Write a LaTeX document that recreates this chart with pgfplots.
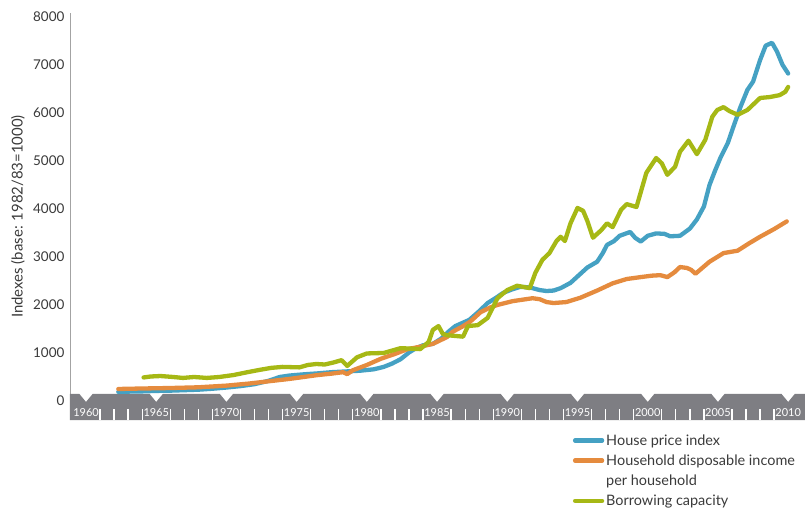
\documentclass[border=0pt]{standalone}
\usepackage{pgfplots}
\pgfplotsset{compat=1.18}
\usepackage{fontspec}
\setmainfont{Lato}

\definecolor{housecol}{HTML}{45A1C3}
\definecolor{incomecol}{HTML}{E58B3E}
\definecolor{borrowcol}{HTML}{A6B815}
\definecolor{bandgray}{HTML}{7E7E83}
\definecolor{axisgray}{HTML}{A3A3A3}
\definecolor{labgray}{HTML}{3A3A3A}

\begin{document}
\begin{tikzpicture}
\begin{axis}[
    scale only axis,
    width=735bp, height=407bp,
    xmin=1958.86, xmax=2011.2,
    ymin=-396, ymax=8080,
    clip=false,
    axis x line=none,
    axis y line=left,
    y axis line style={-, draw=axisgray, line width=1pt},
    ytick={0,1000,...,8000},
    scaled y ticks=false,
    ytick style={draw=none},
    yticklabel style={font=\fontsize{13.5}{15}\selectfont, text=labgray,
        /pgf/number format/assume math mode=true,
        /pgf/number format/1000 sep={}},
    ylabel={Indexes (base: 1982/83=1000)},
    ylabel style={font=\fontsize{15}{17}\selectfont, text=labgray,
        at={(axis description cs:-0.0707,0.50)}, anchor=center},
    legend style={at={(axis description cs:0.684,-0.030)}, anchor=north west,
        draw=none, fill=none, inner sep=0pt, row sep=4bp,
        font=\fontsize{14.5}{17}\selectfont, text=labgray,
        cells={anchor=west}},
    legend image code/.code={\draw[#1] (0bp,0bp) -- (27bp,0bp);},
    every axis plot/.append style={line width=4.3bp, line join=round, line cap=round},
]
% grey year band with notches at every fifth year
\fill[bandgray] (axis cs:1958.86,-396) -- (axis cs:1958.86,146)
  -- (axis cs:1959.53,146) -- (axis cs:1960,-20) -- (axis cs:1960.47,146)
  -- (axis cs:1964.53,146) -- (axis cs:1965,-20) -- (axis cs:1965.47,146)
  -- (axis cs:1969.53,146) -- (axis cs:1970,-20) -- (axis cs:1970.47,146)
  -- (axis cs:1974.53,146) -- (axis cs:1975,-20) -- (axis cs:1975.47,146)
  -- (axis cs:1979.53,146) -- (axis cs:1980,-20) -- (axis cs:1980.47,146)
  -- (axis cs:1984.53,146) -- (axis cs:1985,-20) -- (axis cs:1985.47,146)
  -- (axis cs:1989.53,146) -- (axis cs:1990,-20) -- (axis cs:1990.47,146)
  -- (axis cs:1994.53,146) -- (axis cs:1995,-20) -- (axis cs:1995.47,146)
  -- (axis cs:1999.53,146) -- (axis cs:2000,-20) -- (axis cs:2000.47,146)
  -- (axis cs:2004.53,146) -- (axis cs:2005,-20) -- (axis cs:2005.47,146)
  -- (axis cs:2009.53,146) -- (axis cs:2010,-20) -- (axis cs:2010.47,146)
  -- (axis cs:2011.2,146) -- (axis cs:2011.2,-396) -- cycle;
\pgfplotsinvokeforeach{1961,1962,1963,1964,1966,1967,1968,1969,1971,1972,1973,1974,
  1976,1977,1978,1979,1981,1982,1983,1984,1986,1987,1988,1989,1991,1992,1993,1994,
  1996,1997,1998,1999,2001,2002,2003,2004,2006,2007,2008,2009}{
  \draw[white, line width=1.3pt] (axis cs:#1,-396) -- (axis cs:#1,-160);
}
\pgfplotsinvokeforeach{1960,1965,...,2010}{
  \node[white, font=\fontsize{11}{12}\selectfont] at (axis cs:#1,-240) {#1};
}

\addplot[housecol] coordinates {
(1962.3,190) (1963,195) (1964,200) (1965,210) (1966,215) (1967,225) (1968,235)
(1969,255) (1970,280) (1971,310) (1972,350) (1973,420) (1973.8,500) (1974.5,530)
(1975.5,555) (1976.5,575) (1977.5,600) (1978.5,615) (1979.5,630) (1980.5,660)
(1981.2,710) (1981.8,780) (1982.4,870) (1983,1010) (1983.5,1100) (1984,1160)
(1984.7,1190) (1985.3,1300) (1985.8,1440) (1986.3,1560) (1987.3,1690) (1988,1870)
(1988.6,2040) (1989.2,2150) (1989.7,2250) (1990.3,2320) (1990.9,2375) (1991.4,2370)
(1991.8,2350) (1992.3,2310) (1992.8,2290) (1993.3,2300) (1993.8,2350) (1994.5,2460)
(1995.1,2620) (1995.7,2780) (1996.4,2900) (1996.8,3080) (1997.1,3250) (1997.6,3330)
(1998.0,3440) (1998.75,3520) (1999.1,3400) (1999.5,3320) (2000.0,3440) (2000.6,3490)
(2001.2,3480) (2001.6,3430) (2002.3,3440) (2003.0,3590) (2003.5,3780) (2004.0,4050)
(2004.4,4500) (2004.8,4800) (2005.2,5080) (2005.7,5370) (2006.1,5710) (2006.6,6120)
(2007.1,6480) (2007.5,6650) (2008.0,7100) (2008.4,7400) (2008.85,7460) (2009.2,7280)
(2009.6,7000) (2010.0,6820)
};
\addlegendentry{House price index}

\addplot[incomecol] coordinates {
(1962.3,250) (1964,260) (1966,270) (1968,285) (1970,320) (1971.5,360) (1973,410)
(1974.5,460) (1975.5,500) (1976.5,540) (1977.5,570) (1978.3,600) (1978.6,560)
(1979,640) (1980,750) (1981,880) (1982,980) (1982.9,1080) (1983.8,1130)
(1984.7,1190) (1985.7,1330) (1986.1,1440) (1986.8,1550) (1987.35,1650) (1988.1,1850)
(1988.8,1950) (1989.3,2000) (1990.4,2080) (1991.1,2110) (1991.8,2140) (1992.3,2120)
(1992.8,2060) (1993.3,2040) (1994.2,2060) (1995.2,2150) (1996.4,2300) (1997.5,2450)
(1998.5,2540) (1999.5,2580) (2000.3,2610) (2000.9,2620) (2001.4,2580) (2001.9,2680)
(2002.3,2790) (2002.8,2770) (2003.1,2730) (2003.4,2650) (2004.4,2900) (2005.4,3080)
(2006.4,3130) (2007.2,3280) (2008.0,3420) (2009.0,3580) (2009.9,3740)
};
\addlegendentry{Household disposable income}
\addlegendimage{empty legend}
\addlegendentry{per household}

\addplot[borrowcol] coordinates {
(1964.1,490) (1964.6,510) (1965.3,520) (1966.2,500) (1966.9,480) (1967.7,500)
(1968.6,480) (1969.5,500) (1970.5,540) (1971.5,600) (1972.4,650) (1973.2,690)
(1974.0,710) (1975.2,700) (1975.8,750) (1976.4,770) (1977,760) (1977.6,800)
(1978.2,850) (1978.6,730) (1979.3,910) (1980,990) (1981.2,1000) (1981.8,1050)
(1982.4,1100) (1983.2,1090) (1983.8,1080) (1984.4,1230) (1984.7,1480) (1985.1,1560)
(1985.4,1400) (1985.7,1370) (1986.85,1340) (1987.2,1560) (1987.9,1580) (1988.6,1730)
(1989.3,2140) (1990.0,2310) (1990.7,2400) (1991.6,2350) (1992.0,2670) (1992.5,2940)
(1993.0,3080) (1993.5,3330) (1993.8,3420) (1994.1,3330) (1994.5,3700) (1995.0,4020)
(1995.4,3960) (1995.7,3750) (1996.1,3400) (1996.7,3560) (1997.1,3700) (1997.5,3620)
(1998.1,3980) (1998.5,4100) (1999.2,4040) (1999.9,4750) (2000.6,5060) (2001.0,4950)
(2001.4,4710) (2001.95,4880) (2002.3,5190) (2002.9,5420) (2003.5,5140) (2004.1,5440)
(2004.6,5920) (2004.95,6060) (2005.4,6120) (2005.8,6040) (2006.4,5960) (2007.1,6060)
(2008.0,6310) (2008.7,6330) (2009.4,6370) (2009.8,6440) (2010.0,6540)
};
\addlegendentry{Borrowing capacity}
\end{axis}
\pgfresetboundingbox
\path[use as bounding box] ([xshift=-70bp,yshift=-91bp]current axis.south west)
  rectangle ([yshift=13bp]current axis.north east);
\end{tikzpicture}
\end{document}
